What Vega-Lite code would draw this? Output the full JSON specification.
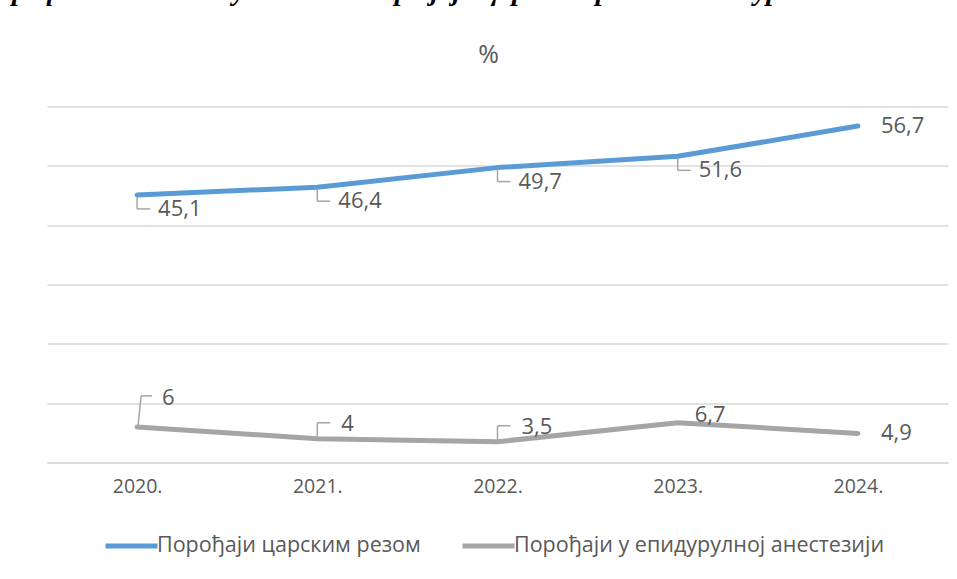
{
  "$schema": "https://vega.github.io/schema/vega-lite/v6.json",
  "autosize": {"type": "none"},
  "width": 901,
  "height": 356,
  "padding": {"left": 47, "top": 106.5, "right": 9, "bottom": 116.5},
  "background": "white",
  "title": {
    "text": "Графикон 4 – Заступљеност порођаја царским резом и епидуралне анестезије",
    "subtitle": "%",
    "anchor": "middle",
    "frame": "group",
    "font": "Liberation Serif",
    "fontStyle": "italic",
    "fontWeight": "bold",
    "fontSize": 28.5,
    "color": "#000000",
    "subtitleFont": "Open Sans",
    "subtitleFontSize": 25,
    "subtitleColor": "#595959",
    "subtitlePadding": 37,
    "offset": 39,
    "dx": -9
  },
  "config": {
    "view": {"stroke": null},
    "font": "Open Sans"
  },
  "data": {
    "values": [
      {"year": "2020.", "series": "Порођаји царским резом", "value": 45.1, "label": "45,1"},
      {"year": "2021.", "series": "Порођаји царским резом", "value": 46.4, "label": "46,4"},
      {"year": "2022.", "series": "Порођаји царским резом", "value": 49.7, "label": "49,7"},
      {"year": "2023.", "series": "Порођаји царским резом", "value": 51.6, "label": "51,6"},
      {"year": "2024.", "series": "Порођаји царским резом", "value": 56.7, "label": "56,7"},
      {"year": "2020.", "series": "Порођаји у епидурулној анестезији", "value": 6.0, "label": "6"},
      {"year": "2021.", "series": "Порођаји у епидурулној анестезији", "value": 4.0, "label": "4"},
      {"year": "2022.", "series": "Порођаји у епидурулној анестезији", "value": 3.5, "label": "3,5"},
      {"year": "2023.", "series": "Порођаји у епидурулној анестезији", "value": 6.7, "label": "6,7"},
      {"year": "2024.", "series": "Порођаји у епидурулној анестезији", "value": 4.9, "label": "4,9"}
    ]
  },
  "encoding": {
    "x": {
      "field": "year", "type": "ordinal",
      "scale": {"type": "point", "padding": 0.5},
      "axis": {
        "title": null, "labelAngle": 0, "ticks": false,
        "domain": true, "domainColor": "#d9d9d9", "domainWidth": 1.5,
        "labelFont": "Open Sans", "labelFontSize": 19.5, "labelColor": "#595959",
        "labelPadding": 15
      }
    },
    "y": {
      "field": "value", "type": "quantitative",
      "scale": {"domain": [0, 60], "nice": false},
      "axis": {
        "title": null, "labels": false, "ticks": false, "domain": false,
        "values": [0, 10, 20, 30, 40, 50, 60],
        "grid": true, "gridColor": "#d9d9d9", "gridWidth": 1.5
      }
    }
  },
  "layer": [
    {
      "mark": {"type": "line", "strokeWidth": 5, "strokeCap": "round", "strokeJoin": "round"},
      "encoding": {
        "color": {
          "field": "series", "type": "nominal",
          "scale": {
            "domain": ["Порођаји царским резом", "Порођаји у епидурулној анестезији"],
            "range": ["#5b9bd5", "#a5a5a5"]
          },
          "legend": {
            "title": null, "orient": "none", "direction": "horizontal",
            "legendX": 56, "legendY": 411,
            "symbolType": "stroke", "symbolSize": 2704, "symbolStrokeWidth": 5,
            "labelFont": "Open Sans", "labelFontSize": 21.5, "labelColor": "#595959",
            "labelOffset": -3, "columnPadding": 31, "labelLimit": 500
          }
        }
      }
    },
    {
      "transform": [{"filter": "datum.series == 'Порођаји царским резом' && datum.year != '2024.'"}],
      "mark": {"type": "rule", "color": "#a6a6a6", "strokeWidth": 1.5, "yOffset": 2, "y2Offset": 14},
      "encoding": {"y2": {"field": "value"}}
    },
    {
      "transform": [{"filter": "datum.series == 'Порођаји царским резом' && datum.year != '2024.'"}],
      "mark": {"type": "rule", "color": "#a6a6a6", "strokeWidth": 1.5, "yOffset": 14, "y2Offset": 14, "xOffset": 0, "x2Offset": 13},
      "encoding": {"y2": {"field": "value"}, "x2": {"field": "year"}}
    },
    {
      "transform": [{"filter": "datum.series != 'Порођаји царским резом' && (datum.year == '2021.' || datum.year == '2022.')"}],
      "mark": {"type": "rule", "color": "#a6a6a6", "strokeWidth": 1.5, "yOffset": -2, "y2Offset": -16},
      "encoding": {"y2": {"field": "value"}}
    },
    {
      "transform": [{"filter": "datum.series != 'Порођаји царским резом' && (datum.year == '2021.' || datum.year == '2022.')"}],
      "mark": {"type": "rule", "color": "#a6a6a6", "strokeWidth": 1.5, "yOffset": -16, "y2Offset": -16, "xOffset": 0, "x2Offset": 13},
      "encoding": {"y2": {"field": "value"}, "x2": {"field": "year"}}
    },
    {
      "transform": [{"filter": "datum.series != 'Порођаји царским резом' && datum.year == '2020.'"}],
      "mark": {"type": "rule", "color": "#a6a6a6", "strokeWidth": 1.5, "yOffset": -2, "y2Offset": -31, "xOffset": 1, "x2Offset": 4},
      "encoding": {"y2": {"field": "value"}, "x2": {"field": "year"}}
    },
    {
      "transform": [{"filter": "datum.series != 'Порођаји царским резом' && datum.year == '2020.'"}],
      "mark": {"type": "rule", "color": "#a6a6a6", "strokeWidth": 1.5, "yOffset": -31, "y2Offset": -31, "xOffset": 4, "x2Offset": 15},
      "encoding": {"y2": {"field": "value"}, "x2": {"field": "year"}}
    },
    {
      "transform": [{"filter": "datum.series == 'Порођаји царским резом' && datum.year != '2024.'"}],
      "mark": {"type": "text", "align": "left", "baseline": "middle", "dx": 21, "dy": 14, "font": "Open Sans", "fontSize": 22, "color": "#595959"},
      "encoding": {"text": {"field": "label"}}
    },
    {
      "transform": [{"filter": "datum.year == '2024.'"}],
      "mark": {"type": "text", "align": "left", "baseline": "middle", "dx": 23, "dy": 0, "font": "Open Sans", "fontSize": 22, "color": "#595959"},
      "encoding": {"text": {"field": "label"}}
    },
    {
      "transform": [{"filter": "datum.series != 'Порођаји царским резом' && (datum.year == '2021.' || datum.year == '2022.')"}],
      "mark": {"type": "text", "align": "left", "baseline": "middle", "dx": 24, "dy": -15, "font": "Open Sans", "fontSize": 22, "color": "#595959"},
      "encoding": {"text": {"field": "label"}}
    },
    {
      "transform": [{"filter": "datum.series != 'Порођаји царским резом' && datum.year == '2020.'"}],
      "mark": {"type": "text", "align": "left", "baseline": "middle", "dx": 25, "dy": -29, "font": "Open Sans", "fontSize": 22, "color": "#595959"},
      "encoding": {"text": {"field": "label"}}
    },
    {
      "transform": [{"filter": "datum.series != 'Порођаји царским резом' && datum.year == '2023.'"}],
      "mark": {"type": "text", "align": "left", "baseline": "middle", "dx": 17, "dy": -8, "font": "Open Sans", "fontSize": 22, "color": "#595959"},
      "encoding": {"text": {"field": "label"}}
    }
  ]
}
